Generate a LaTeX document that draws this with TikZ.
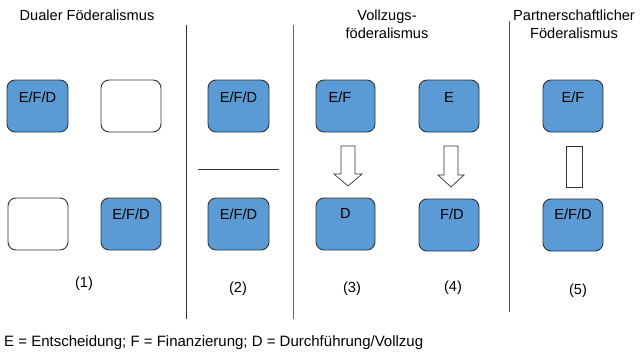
\documentclass[tikz,border=0pt]{standalone}
\usepackage{fontspec}
\setmainfont{Liberation Sans}
\definecolor{boxblue}{RGB}{91,155,213}
\definecolor{edge}{RGB}{50,50,50}
\begin{document}
\begin{tikzpicture}[x=1pt,y=-1pt,
  txt/.style={font=\fontsize{14.6}{17}\selectfont,inner sep=0pt},
  bbox/.style={draw=edge,line width=0.9pt,rounded corners=8pt,fill=boxblue},
  wbox/.style={draw=edge,line width=0.9pt,rounded corners=8pt,fill=white},
  sep/.style={draw=black!80,line width=0.9pt},
  arr/.style={draw=edge,line width=0.7pt,fill=white}]
\useasboundingbox (0,0) rectangle (640,351);
% titles
\node[txt] (t1) at (87,15) {Dualer Föderalismus};
\node[txt,align=center] (t3) at (387,24) {Vollzugs-\\[1pt]föderalismus};
\node[txt,align=center] (t5) at (574,24) {Partnerschaftlicher\\[1pt]Föderalismus};
% separators
\coordinate (s1a) at (186,25); \coordinate (s1b) at (186,319);
\coordinate (s2a) at (293,25); \coordinate (s2b) at (293,319);
\coordinate (s3a) at (509,21); \coordinate (s3b) at (509,312);
\draw[sep] (s1a) -- (s1b);
\draw[sep,draw=black!60] (s2a) -- (s2b);
\draw[sep,draw=black!70] (s3a) -- (s3b);
\coordinate (h1) at (198,169); \coordinate (h2) at (279,169);
\draw[sep] (h1) -- (h2);
% boxes
\draw[bbox] (7,80) rectangle (68,132); \node[txt] (b1) at (37.5,97) {E/F/D};
\draw[wbox] (101,80) rectangle (161,132); \node (b2) at (131,106) {};
\draw[wbox] (8,198) rectangle (68,250); \node (b3) at (38,224) {};
\draw[bbox] (101,198) rectangle (161,250); \node[txt] (b4) at (131,214) {E/F/D};
\draw[bbox] (208,80) rectangle (269,132); \node[txt] (b5) at (238.5,97) {E/F/D};
\draw[bbox] (208,198) rectangle (269,250); \node[txt] (b6) at (238.5,214) {E/F/D};
\draw[bbox] (316,80) rectangle (375,132); \node[txt] (b7) at (340,97) {E/F};
\draw[bbox] (316,198) rectangle (375,250); \node[txt] (b8) at (345.5,213) {D};
\draw[bbox] (419,80) rectangle (479,132); \node[txt] (b9) at (449,97) {E};
\draw[bbox] (419,199) rectangle (479,251); \node[txt] (b10) at (452,214) {F/D};
\draw[bbox] (543,80) rectangle (603,132); \node[txt] (b11) at (573,97) {E/F};
\draw[bbox] (543,199) rectangle (603,251); \node[txt] (b12) at (573,214) {E/F/D};
% arrows
\draw[arr] (341,146) -- (355,146) -- (355,174) -- (362,174) -- (348,186) -- (334,174) -- (341,174) -- cycle;
\draw[arr] (444,146) -- (458,146) -- (458,175) -- (464,175) -- (451,187) -- (438,175) -- (444,175) -- cycle;
\draw[arr] (566,146) rectangle (582,187);
% labels
\node[txt] (l1) at (84,284) {(1)};
\node[txt] (l2) at (238,289) {(2)};
\node[txt] (l3) at (352,289) {(3)};
\node[txt] (l4) at (453,288) {(4)};
\node[txt] (l5) at (578,291) {(5)};
\node[txt,anchor=west,font=\fontsize{15}{17}\selectfont] (leg) at (4,343) {E = Entscheidung; F = Finanzierung; D = Durchführung/Vollzug};
\end{tikzpicture}
\end{document}
